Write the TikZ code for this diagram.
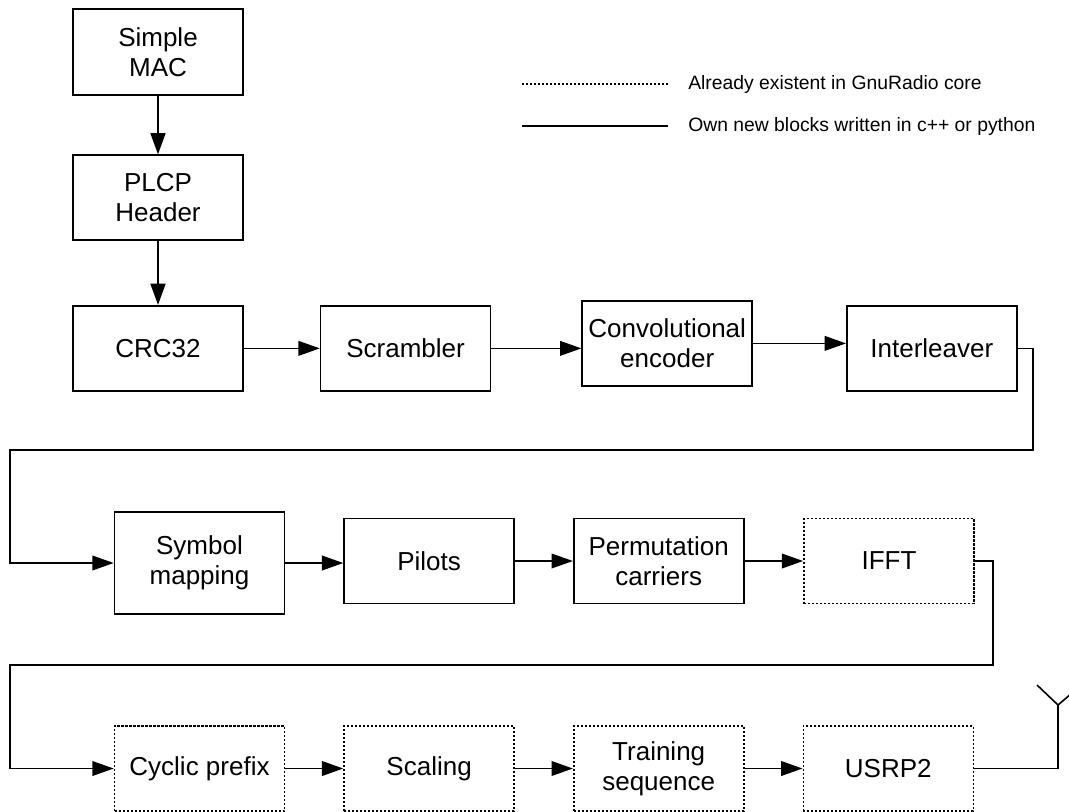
\documentclass[tikz,border=0pt]{standalone}
\usepackage{fontspec}
\setmainfont{Liberation Sans}
\usetikzlibrary{arrows.meta,positioning}

\begin{document}
\begin{tikzpicture}[x=0.75pt, y=-0.75pt, >={Triangle[length=16pt,width=11pt]}, block/.style={draw, line width=1.2pt, align=center, inner sep=1pt, minimum width=127.5pt, minimum height=63.75pt, font=\fontsize{19.5}{22.5}\selectfont}, coreblock/.style={block, dash pattern=on 1.6pt off 1.4pt}, legendtext/.style={anchor=west, inner sep=0pt, font=\fontsize{14.5}{17}\selectfont}, node distance=44pt and 43.5pt]
\useasboundingbox (0,0) rectangle (1069,811);
% legend
\node[legendtext] (coretext) at (688,84) {Already existent in GnuRadio core};
\node[legendtext] (owntext) at (688,126) {Own new blocks written in c++ or python};
\draw[dash pattern=on 1.6pt off 1.4pt, line width=1.2pt] (522,84) -- (668,84);
\draw[line width=1.2pt] (522,126) -- (668,126);
% first row
\node[block, minimum height=64.5pt] (mac) at (158,52) {Simple\\MAC};
\node[block, below=44pt of mac] (plcp) {PLCP\\Header};
\node[block, below=48pt of plcp] (crc) {CRC32};
\node[block, right=57pt of crc] (scrambler) {Scrambler};
\node[block, right=67.5pt of scrambler, yshift=3.75pt] (conv) {Convolutional\\encoder};
\node[block, right=69.75pt of conv, yshift=-3.75pt] (interleaver) {Interleaver};
% second row
\node[block, minimum height=76.5pt] (symbol) at (199.5,563) {Symbol\\mapping};
\node[block, right=of symbol, yshift=1.5pt] (pilots) {Pilots};
\node[block, right=of pilots] (perm) {Permutation\\carriers};
\node[coreblock, right=44pt of perm] (ifft) {IFFT};
% third row
\node[coreblock] (cyclic) at (199.5,768.5) {Cyclic prefix};
\node[coreblock, right=of cyclic] (scaling) {Scaling};
\node[coreblock, right=of scaling] (training) {Training\\sequence};
\node[coreblock, right=of training] (usrp) {USRP2};
\coordinate (wrapa) at (1033,450);
\coordinate (wrapb) at (10,450);
\coordinate (wrapc) at (993,665);
\coordinate (wrapd) at (10,665);
\coordinate (ant) at (1058,705);
\draw[->, line width=2pt] (mac) -- (plcp);
\draw[->, line width=2pt] (plcp) -- (crc);
\foreach \a/\b in {crc/scrambler,scrambler/conv,conv/interleaver,symbol/pilots,pilots/perm,perm/ifft,cyclic/scaling,scaling/training,training/usrp}{\draw[->, line width=1.2pt] (\a) -- (\a -| \b.west);}
\draw[->, line width=1.2pt] (interleaver.east) -| (wrapa) -- (wrapb) |- (symbol.west);
\draw[->, line width=1.2pt] (ifft.east) -| (wrapc) -- (wrapd) |- (cyclic.west);
\draw[line width=1.2pt] (usrp.east) -| (ant);
\draw[line width=1.2pt] (ant) -- ++(-21,-20) (ant) -- ++(14,-12);
\end{tikzpicture}
\end{document}
